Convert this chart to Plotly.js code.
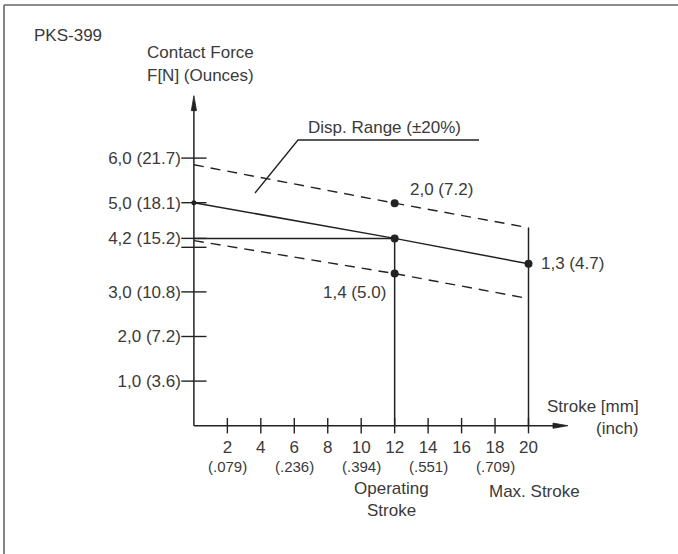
<!DOCTYPE html>
<html>
<head>
<meta charset="utf-8">
<script src="https://cdn.plot.ly/plotly-3.0.1.min.js"></script>
<style>html,body{margin:0;padding:0;background:#fff;}#chart{width:678px;height:554px;}</style>
</head>
<body>
<div id="chart"></div>
<script>
// ---- data ----
const strokeMM = [0, 12, 20];
const forceNominal = [5.0, 4.2, 3.63];
const forceUpper = [5.85, 4.99, 4.44];
const forceLower = [4.15, 3.41, 2.85];
const operatingStroke = 12;
const maxStroke = 20;
const operatingForce = 4.2;

const yTickVals = [1, 2, 3, 4.2, 5, 6];
const yTickText = ['1,0 (3.6)', '2,0 (7.2)', '3,0 (10.8)', '4,2 (15.2)', '5,0 (18.1)', '6,0 (21.7)'];
const yExtraTick = [4.0];
const xTickVals = [2, 4, 6, 8, 10, 12, 14, 16, 18, 20];
const xTickMM = ['2', '4', '6', '8', '10', '12', '14', '16', '18', '20'];
const xTickInch = ['(.079)', '', '(.236)', '', '(.394)', '', '(.551)', '', '(.709)', ''];

const pointX = [12, 20, 12];
const pointY = [4.99, 3.63, 3.41];
const pointLabels = ['2,0 (7.2)', '1,3 (4.7)', '1,4 (5.0)'];

// ---- styling ----
const INK = '#222';
const TXT = '#3a3a3a';
const FONT = 'Liberation Sans, Arial, sans-serif';
const FS = 17;
const W = 678, H = 554;
const X0PX = 193.9, XPX = 16.73;   // pixel of x=0, px per mm
const Y0PX = 425.7, YPX = 44.6;    // pixel of y=0, px per N
const xRange = [-X0PX / XPX, (W - X0PX) / XPX];
const yRange = [-(H - Y0PX) / YPX, Y0PX / YPX];

const traces = [
  { x: strokeMM, y: forceUpper, mode: 'lines', line: { color: INK, width: 1.4, dash: '10px,7px' }, hoverinfo: 'skip' },
  { x: strokeMM, y: forceLower, mode: 'lines', line: { color: INK, width: 1.4, dash: '10px,7px' }, hoverinfo: 'skip' },
  { x: strokeMM, y: forceNominal, mode: 'lines', line: { color: INK, width: 1.5 }, hoverinfo: 'skip' },
  // reference lines for operating / max stroke
  { x: [0, operatingStroke, operatingStroke], y: [operatingForce, operatingForce, 0], mode: 'lines', line: { color: INK, width: 1.5 }, hoverinfo: 'skip' },
  { x: [maxStroke, maxStroke], y: [forceUpper[2], 0], mode: 'lines', line: { color: INK, width: 1.5 }, hoverinfo: 'skip' },
  // tick crosses
  { x: yTickVals.concat(yExtraTick).map(() => 0), y: yTickVals.concat(yExtraTick), mode: 'markers', cliponaxis: false,
    marker: { symbol: 'line-ew', size: 18, line: { width: 1.4, color: INK } }, hoverinfo: 'skip' },
  { x: xTickVals, y: xTickVals.map(() => 0), mode: 'markers', cliponaxis: false,
    marker: { symbol: 'line-ns', size: 11, line: { width: 1.4, color: INK } }, hoverinfo: 'skip' },
  // dots
  { x: [operatingStroke].concat(pointX), y: [operatingForce].concat(pointY), mode: 'markers',
    marker: { color: INK, size: 8 }, hoverinfo: 'skip' },
  { x: [strokeMM[0]], y: [forceNominal[0]], mode: 'markers', marker: { color: INK, size: 5 }, hoverinfo: 'skip' }
];

// arrow head sizes in data units
const yTip = 7.4, xTip = 22.36;
const yHeadL = 15 / YPX, yHeadW = 2.6 / XPX;
const xHeadL = 15 / XPX, xHeadW = 2.6 / YPX;

const shapes = [
  { type: 'line', xref: 'x', yref: 'y', x0: 0, y0: 0, x1: 0, y1: yTip - yHeadL * 0.5, line: { color: INK, width: 1.5 } },
  { type: 'line', xref: 'x', yref: 'y', x0: 0, y0: 0, x1: xTip - xHeadL * 0.5, y1: 0, line: { color: INK, width: 1.5 } },
  { type: 'path', xref: 'x', yref: 'y', fillcolor: INK, line: { color: INK, width: 0.8 },
    path: `M ${-yHeadW} ${yTip - yHeadL} L 0 ${yTip} L ${yHeadW} ${yTip - yHeadL} Z` },
  { type: 'path', xref: 'x', yref: 'y', fillcolor: INK, line: { color: INK, width: 0.8 },
    path: `M ${xTip - xHeadL} ${-xHeadW} L ${xTip} 0 L ${xTip - xHeadL} ${xHeadW} Z` },
  // Disp. Range underline + leader
  { type: 'path', xref: 'x', yref: 'y', line: { color: INK, width: 1.3 },
    path: `M ${(255 - X0PX) / XPX} ${(Y0PX - 193) / YPX} L ${(298 - X0PX) / XPX} ${(Y0PX - 140) / YPX} L ${(479 - X0PX) / XPX} ${(Y0PX - 140) / YPX}` },
  // frame (top and left)
  { type: 'line', xref: 'paper', yref: 'paper', x0: 4 / W, y0: 1 - 5 / H, x1: 1, y1: 1 - 5 / H, line: { color: '#666', width: 1.6 } },
  { type: 'line', xref: 'paper', yref: 'paper', x0: 4 / W, y0: 1 - 5 / H, x1: 4 / W, y1: 0, line: { color: '#666', width: 1.6 } }
];

const txt = (t, x, y, xa, ref, size) => ({
  text: t, x: x, y: y, xref: ref || 'paper', yref: ref || 'paper', xanchor: xa || 'center', yanchor: 'middle',
  showarrow: false, font: { family: FONT, size: size || FS, color: TXT }
});

const annotations = [
  txt('PKS-399', 32 / W, 1 - 35 / H, 'left'),
  txt('Contact Force', 200 / W, 1 - 52 / H),
  txt('F[N] (Ounces)', 200 / W, 1 - 75 / H),
  txt('Disp. Range (±20%)', 385 / W, 1 - 127 / H),
  txt('Stroke [mm]', 641 / W, 1 - 406 / H, 'right'),
  txt('(inch)', 641 / W, 1 - 428 / H, 'right'),
  txt('Operating', 391 / W, 1 - 488 / H),
  txt('Stroke', 391 / W, 1 - 510 / H),
  txt('Max. Stroke', 534 / W, 1 - 491 / H),
  txt(pointLabels[0], pointX[0] + 0.8, pointY[0] + 0.31, 'left', 'x'),
  txt(pointLabels[1], pointX[1] + 0.6, pointY[1], 'left', 'x'),
  txt(pointLabels[2], pointX[2] - 0.4, pointY[2] - 0.42, 'right', 'x')
];
// inch sub-labels under the mm tick labels
xTickVals.forEach((v, i) => {
  if (xTickInch[i]) annotations.push(txt(xTickInch[i], v, -(466 - Y0PX) / YPX, 'center', 'x', 15));
});

const layout = {
  width: W, height: H,
  margin: { l: 0, r: 0, t: 0, b: 0 },
  paper_bgcolor: '#fff', plot_bgcolor: '#fff',
  showlegend: false,
  xaxis: {
    range: xRange, anchor: 'free', position: (H - Y0PX) / H,
    showgrid: false, zeroline: false, showline: false, ticks: '',
    tickmode: 'array', tickvals: xTickVals, ticktext: xTickMM,
    ticklabelstandoff: 9,
    tickfont: { family: FONT, size: FS, color: TXT }, fixedrange: true
  },
  yaxis: {
    range: yRange, anchor: 'free', position: X0PX / W,
    showgrid: false, zeroline: false, showline: false, ticks: '',
    tickmode: 'array', tickvals: yTickVals, ticktext: yTickText,
    ticklabelstandoff: 13,
    tickfont: { family: FONT, size: FS, color: TXT }, fixedrange: true
  },
  shapes: shapes,
  annotations: annotations
};

Plotly.newPlot('chart', traces, layout, { displayModeBar: false, staticPlot: true });
</script>
</body>
</html>
